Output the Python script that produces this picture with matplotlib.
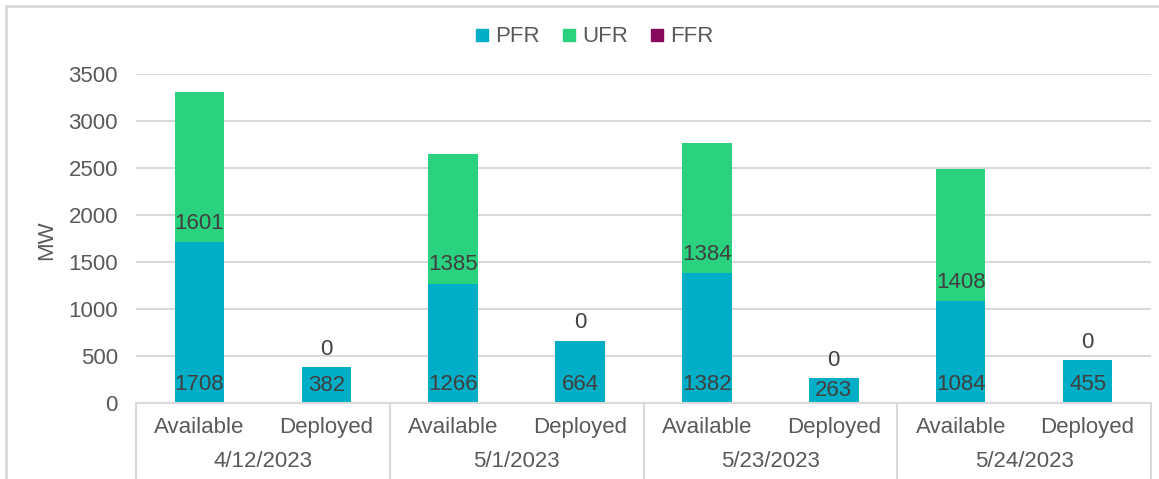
import numpy as np
import matplotlib.pyplot as plt
from matplotlib.lines import Line2D

plt.rcParams['font.family'] = ['Liberation Sans', 'DejaVu Sans']

# chart data
dates = ["4/12/2023", "5/1/2023", "5/23/2023", "5/24/2023"]
kinds = ["Available", "Deployed"]
pfr = [1708, 382, 1266, 664, 1382, 263, 1084, 455]
ufr = [1601, 0, 1385, 0, 1384, 0, 1408, 0]
ffr = [0, 0, 0, 0, 0, 0, 0, 0]

c_pfr = "#00AEC7"
c_ufr = "#2AD17E"
c_ffr = "#860A5C"
txt = "#595959"
lbl = "#404040"
grid = "#D9D9D9"
fs = 16

fig = plt.figure(figsize=(11.59, 4.79), dpi=100)
ax = fig.add_axes([136/1159, 1-403/479, (1151-136)/1159, (403-74)/479])

x = np.arange(len(pfr))
w = 0.39
pfr = np.array(pfr)
ufr = np.array(ufr)
ffr = np.array(ffr)
ax.bar(x, pfr, w, color=c_pfr, zorder=2)
ax.bar(x, ufr, w, bottom=pfr, color=c_ufr, zorder=2)
ax.bar(x, ffr, w, bottom=pfr+ufr, color=c_ffr, zorder=2)

ax.set_xlim(-0.5, len(pfr)-0.5)
ax.set_ylim(0, 3500)
ax.set_yticks(range(0, 3501, 500))
ax.yaxis.grid(True, color=grid, linewidth=1.5, zorder=0)
ax.set_axisbelow(True)
for s in ["left", "right", "top"]:
    ax.spines[s].set_visible(False)
ax.spines["bottom"].set_color(grid)
ax.spines["bottom"].set_linewidth(1.5)
ax.tick_params(axis="y", length=0, pad=13, labelsize=fs, labelcolor=txt)
ax.tick_params(axis="x", length=0)
ax.set_xticks([])

# data labels, inside base (pixel math for the short bar)
px_per_unit = 329 / 3500
def base_label(xi, base, h, val):
    off = min(19, h*px_per_unit/2) if h > 0 else 18
    ax.annotate(str(val), (xi, base), xytext=(0, off*72/100), textcoords="offset points",
                ha="center", va="center", fontsize=fs, color=lbl, zorder=3)

for i in range(len(pfr)):
    base_label(x[i], 0, pfr[i], pfr[i])
    base_label(x[i], pfr[i], ufr[i], ufr[i])

# two level category axis
tr = ax.get_xaxis_transform()
for i in range(len(pfr)):
    ax.text(x[i], -0.073, kinds[i % 2], transform=tr, ha="center", va="center",
            fontsize=fs, color=txt)
for j, d in enumerate(dates):
    ax.text(2*j + 0.5, -0.179, d, transform=tr, ha="center", va="center",
            fontsize=fs, color=txt)
for b in np.arange(-0.5, len(pfr), 2):
    ax.plot([b, b], [0, -0.23], transform=tr, color=grid, linewidth=1.5, clip_on=False)

fig.text(47/1159, 1-240/479, "MW", rotation=90, ha="center", va="center",
         fontsize=fs, color=txt)

handles = [Line2D([], [], marker="s", linestyle="", markersize=8, color=c)
           for c in [c_pfr, c_ufr, c_ffr]]
fig.legend(handles, ["PFR", "UFR", "FFR"], loc="center", bbox_to_anchor=(0.513, 0.923),
           ncol=3, frameon=False, fontsize=fs, labelcolor=txt,
           handlelength=0.6, handletextpad=0.3, columnspacing=1.0)

# outer chart border (only top and left visible)
fig.add_artist(Line2D([6/1159, 1], [1-6/479, 1-6/479], color=grid, linewidth=2))
fig.add_artist(Line2D([6/1159, 6/1159], [0, 1-6/479], color=grid, linewidth=2))

fig.savefig("out.png", dpi=100)
